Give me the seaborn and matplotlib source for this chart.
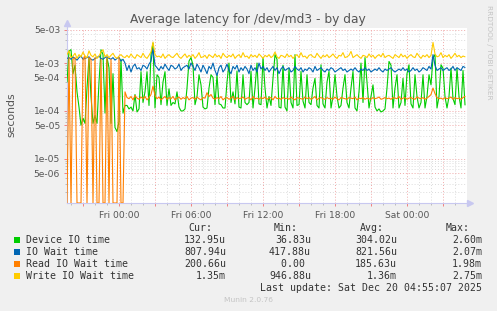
import numpy as np
import pandas as pd
import matplotlib
matplotlib.use("Agg")
import matplotlib.pyplot as plt
import matplotlib.dates as mdates
import matplotlib.ticker as mticker
from matplotlib.patches import Rectangle
import seaborn as sns

# ---------------- data (microseconds, 10-minute steps) ----------------
start_time = "2025-12-18 19:40"
step = "10min"
x_start = "2025-12-18 19:40"
x_end = "2025-12-20 05:00"

device_us = [
    400, 1800, 1900, 600, 900, 250, 120, 50, 70, 55,
    300, 1300, 200, 55, 80, 55, 400, 1900, 1500, 90,
    1300, 800, 55, 600, 45, 37, 60, 1200, 90, 130,
    130, 110, 120, 100, 220, 95, 110, 660, 150, 250,
    660, 130, 1500, 2600, 115, 570, 500, 135, 400, 660,
    130, 290, 130, 150, 140, 250, 120, 100, 100, 110,
    300, 1100, 1300, 900, 135, 200, 570, 350, 120, 110,
    115, 300, 570, 500, 135, 570, 140, 135, 115, 115,
    400, 1000, 150, 250, 140, 680, 120, 115, 570, 150,
    135, 150, 670, 115, 300, 1000, 140, 135, 1300, 300,
    115, 200, 130, 480, 1500, 1200, 120, 115, 900, 120,
    100, 780, 150, 115, 1500, 130, 135, 670, 160, 115,
    570, 150, 135, 300, 480, 130, 115, 920, 140, 115,
    400, 670, 115, 200, 570, 200, 115, 130, 300, 570,
    150, 115, 300, 670, 115, 100, 250, 1000, 150, 1300,
    400, 115, 200, 350, 120, 100, 110, 95, 100, 110,
    300, 1080, 900, 115, 300, 570, 115, 150, 480, 130,
    600, 920, 140, 115, 570, 200, 115, 150, 570, 115,
    200, 570, 350, 1300, 1500, 115, 200, 920, 780, 200,
    115, 200, 780, 180, 135, 780, 200, 115, 700, 133,
]

iowait_us = [
    1250, 1300, 1200, 1350, 1250, 1150, 1300, 1400, 1200, 1250,
    1300, 1350, 1200, 1150, 1250, 1300, 1400, 1250, 1200, 1300,
    1350, 1250, 1200, 1300, 1150, 1250, 1300, 1100, 1200, 1000,
    700, 900, 650, 850, 950, 750, 800, 700, 900, 850,
    750, 950, 1100, 2000, 900, 800, 700, 850, 750, 950,
    800, 700, 900, 850, 750, 800, 950, 700, 800, 850,
    900, 750, 1000, 850, 700, 950, 800, 650, 900, 750,
    600, 850, 750, 1000, 700, 550, 800, 900, 650, 750,
    950, 700, 600, 850, 750, 900, 650, 800, 700, 850,
    750, 600, 900, 700, 800, 650, 1000, 750, 850, 700,
    800, 650, 750, 850, 700, 800, 600, 750, 850, 700,
    750, 800, 650, 700, 850, 750, 700, 800, 650, 750,
    700, 800, 750, 650, 850, 700, 750, 800, 700, 650,
    750, 700, 800, 750, 650, 700, 750, 800, 700, 750,
    650, 700, 750, 700, 800, 700, 650, 750, 700, 800,
    700, 750, 650, 700, 750, 700, 800, 700, 650, 750,
    700, 750, 800, 700, 650, 700, 750, 700, 800, 700,
    750, 650, 700, 800, 700, 750, 650, 700, 800, 750,
    700, 850, 750, 1500, 900, 700, 750, 800, 700, 750,
    800, 700, 750, 850, 700, 800, 750, 700, 850, 808,
]

read_us = [
    0, 1300, 0, 1200, 1300, 0, 0, 0, 1200, 1400,
    0, 1300, 1200, 0, 1300, 0, 0, 1200, 0, 0,
    1300, 0, 1200, 0, 0, 0, 1300, 0, 0, 250,
    190, 180, 200, 170, 210, 185, 175, 195, 180, 200,
    170, 190, 220, 330, 210, 180, 195, 170, 185, 200,
    175, 190, 180, 200, 170, 185, 195, 175, 190, 180,
    200, 170, 185, 190, 175, 195, 180, 170, 190, 185,
    240, 200, 220, 185, 175, 190, 180, 200, 170, 185,
    190, 175, 185, 200, 170, 190, 180, 185, 195, 175,
    185, 190, 170, 200, 180, 185, 175, 190, 180, 195,
    175, 185, 190, 170, 200, 180, 185, 175, 190, 180,
    185, 175, 195, 180, 170, 190, 185, 180, 175, 195,
    180, 190, 175, 185, 200, 170, 185, 190, 180, 175,
    190, 180, 185, 175, 195, 180, 170, 190, 185, 180,
    175, 190, 185, 180, 195, 170, 185, 180, 190, 175,
    185, 180, 175, 190, 180, 185, 195, 175, 180, 190,
    180, 185, 175, 190, 185, 180, 200, 175, 185, 190,
    175, 185, 190, 180, 175, 195, 185, 180, 190, 175,
    185, 200, 220, 300, 230, 190, 180, 185, 175, 190,
    180, 185, 195, 175, 190, 180, 185, 175, 190, 201,
]

write_us = [
    1500, 1800, 1300, 1400, 1600, 1250, 1500, 1350, 1700, 1400,
    1300, 1800, 1450, 1350, 1550, 1250, 1400, 1700, 1900, 1350,
    1500, 1300, 1450, 1600, 1350, 1250, 1400, 1500, 1350, 1300,
    1450, 1300, 1550, 1350, 1250, 1500, 1400, 1300, 1600, 1350,
    1250, 1450, 1700, 2750, 1500, 1350, 1400, 1300, 1550, 1250,
    1400, 1500, 1350, 1300, 1450, 1600, 1350, 1250, 1400, 1550,
    1300, 1450, 1350, 1500, 1250, 1400, 1650, 1300, 1350, 1450,
    1250, 1500, 1400, 1300, 1550, 1350, 1450, 1250, 1600, 1400,
    1300, 1450, 1350, 1550, 1250, 1400, 1500, 1300, 1650, 1350,
    1400, 1250, 1500, 1350, 1450, 1300, 1550, 1400, 1250, 1450,
    1350, 1500, 1300, 1400, 1700, 1350, 1250, 1450, 1400, 1300,
    1550, 1350, 1450, 1250, 1400, 1500, 1300, 1650, 1350, 1400,
    1250, 1450, 1500, 1350, 1300, 1600, 1400, 1250, 1450, 1350,
    1500, 1300, 1400, 1550, 1350, 1250, 1450, 1400, 1650, 1300,
    1350, 1450, 1750, 1300, 1400, 1500, 1350, 1250, 1450, 1400,
    1300, 1550, 1350, 1450, 1250, 1400, 1500, 1350, 1600, 1300,
    1400, 1450, 1350, 1250, 1500, 1400, 1300, 1550, 1350, 1450,
    1250, 1400, 1500, 1350, 1300, 1600, 1400, 1250, 1450, 1350,
    1500, 1300, 1450, 2700, 1550, 1350, 1400, 1650, 1300, 1450,
    1350, 1500, 1250, 1400, 1600, 1350, 1450, 1300, 1400, 1350,
]

series_names = ["Device IO time", "IO Wait time", "Read IO Wait time", "Write IO Wait time"]
series_colors = ["#00CC00", "#0066B3", "#FF8000", "#FFCC00"]
cur_vals = ["132.95u", "807.94u", "200.66u", "1.35m"]
min_vals = ["36.83u", "417.88u", "0.00 ", "946.88u"]
avg_vals = ["304.02u", "821.56u", "185.63u", "1.36m"]
max_vals = ["2.60m", "2.07m", "1.98m", "2.75m"]
ytick_values = [5e-6, 1e-5, 5e-5, 1e-4, 5e-4, 1e-3, 5e-3]
y_limits = (1.19e-6, 5.4e-3)
title = "Average latency for /dev/md3 - by day"
last_update = "Last update: Sat Dec 20 04:55:07 2025"
footer = "Munin 2.0.76"
side_text = "RRDTOOL / TOBI OETIKER"

# ---------------- build dataframe ----------------
times = pd.date_range(start_time, periods=len(device_us), freq=step)
df = pd.DataFrame({
    "time": times,
    series_names[0]: np.array(device_us, float) * 1e-6,
    series_names[1]: np.array(iowait_us, float) * 1e-6,
    series_names[2]: np.array(read_us, float) * 1e-6,
    series_names[3]: np.array(write_us, float) * 1e-6,
})
long = df.melt(id_vars="time", var_name="series", value_name="seconds")
# like rrdtool, values below the axis floor (zeros on a log axis) sit on the floor
long["shown"] = long["seconds"].clip(lower=y_limits[0])

sns.set_theme(style="white")
plt.rcParams["font.family"] = ["DejaVu Sans"]

W, H = 497, 311
fig = plt.figure(figsize=(W / 100, H / 100), dpi=100, facecolor="#F0F0F0")
ax = fig.add_axes([67 / W, 1 - 203 / H, 400 / W, 175 / H])
ax.set_facecolor("white")

sns.lineplot(data=long, x="time", y="shown", hue="series",
             hue_order=series_names, palette=series_colors,
             linewidth=0.8, estimator=None, sort=False, legend=False, ax=ax)

ax.set_yscale("log")
ax.set_ylim(*y_limits)
ax.set_xlim(pd.Timestamp(x_start), pd.Timestamp(x_end))
ax.set_xlabel("")
ax.set_ylabel("")

# grid
grid_minor = "#DCDCDC"
grid_major = "#F0A8A8"
ax.yaxis.set_major_locator(mticker.FixedLocator(ytick_values))
ax.yaxis.set_minor_locator(mticker.LogLocator(base=10, subs=(2, 3, 4, 6, 7, 8, 9), numticks=30))
ax.yaxis.set_major_formatter(mticker.FuncFormatter(lambda v, p: f"{v:.0e}"))
ax.yaxis.set_minor_formatter(mticker.NullFormatter())

ax.xaxis.set_major_locator(mdates.HourLocator(byhour=range(0, 24, 3)))
ax.xaxis.set_minor_locator(mdates.HourLocator())

def xfmt(v, p):
    d = mdates.num2date(v)
    return d.strftime("%a %H:%M") if d.hour % 6 == 0 else ""

ax.xaxis.set_major_formatter(mticker.FuncFormatter(xfmt))

ax.grid(which="minor", color=grid_minor, linestyle=(0, (1, 2)), linewidth=0.7)
ax.grid(which="major", color=grid_major, linestyle=(0, (1, 2)), linewidth=0.7)
ax.set_axisbelow(True)

ax.tick_params(which="major", direction="out", length=2, width=0.7, color="#F08080",
               labelsize=6.6, labelcolor="#555555", pad=3)
ax.tick_params(which="minor", direction="out", length=1.5, width=0.7, color="#BBBBBB")
ax.tick_params(axis="x", which="major", pad=4)
ax.tick_params(axis="y", which="both", left=True)
ax.tick_params(axis="x", which="both", bottom=True)

for s in ["top", "right"]:
    ax.spines[s].set_visible(False)
axis_col = "#C8C8F0"
for s in ["left", "bottom"]:
    ax.spines[s].set_color(axis_col)
    ax.spines[s].set_linewidth(0.8)
    ax.spines[s].set_zorder(1.5)

# axis arrows
ax.plot([0, 0], [1.0, 1.03], transform=ax.transAxes, color=axis_col, lw=0.8, clip_on=False)
ax.plot([0], [1.03], marker="^", markersize=4, color=axis_col, transform=ax.transAxes, clip_on=False)
ax.plot([1.0, 1.008], [0, 0], transform=ax.transAxes, color=axis_col, lw=0.8, clip_on=False)
ax.plot([1.008], [0], marker=">", markersize=4, color=axis_col, transform=ax.transAxes, clip_on=False)

# titles
fig.text(248 / W, 1 - 23.3 / H, title, ha="center", va="baseline", fontsize=8.8, color="#555555")
fig.text(11.5 / W, 1 - 114.5 / H, "seconds", rotation=90, ha="center", va="center",
         fontsize=7.8, color="#555555")
fig.text(489 / W, 1 - 5 / H, side_text, rotation=270, ha="center", va="top",
         fontsize=5.3, color="#C4C4C4")

# legend block
mono = "DejaVu Sans Mono"
fs = 7.1
tc = "#333333"
def ty(ypx):
    return 1 - ypx / H

hdr_y = 227.7
fig.text(212 / W, ty(hdr_y), "Cur:", ha="right", va="center", family=mono, fontsize=fs, color=tc)
fig.text(298 / W, ty(hdr_y), "Min:", ha="right", va="center", family=mono, fontsize=fs, color=tc)
fig.text(384 / W, ty(hdr_y), "Avg:", ha="right", va="center", family=mono, fontsize=fs, color=tc)
fig.text(470 / W, ty(hdr_y), "Max:", ha="right", va="center", family=mono, fontsize=fs, color=tc)

for k, name in enumerate(series_names):
    yk = 239.7 + 12 * k
    fig.patches.append(Rectangle((14 / W, ty(yk + 3)), 6 / W, 6 / H, transform=fig.transFigure,
                                 facecolor=series_colors[k], edgecolor="none"))
    fig.text(26 / W, ty(yk), name, ha="left", va="center", family=mono, fontsize=fs, color=tc)
    fig.text(226 / W, ty(yk), cur_vals[k], ha="right", va="center", family=mono, fontsize=fs, color=tc)
    fig.text(311 / W, ty(yk), min_vals[k], ha="right", va="center", family=mono, fontsize=fs, color=tc)
    fig.text(397 / W, ty(yk), avg_vals[k], ha="right", va="center", family=mono, fontsize=fs, color=tc)
    fig.text(482 / W, ty(yk), max_vals[k], ha="right", va="center", family=mono, fontsize=fs, color=tc)

fig.text(482 / W, ty(287.7), last_update, ha="right", va="center", family=mono, fontsize=fs, color=tc)
fig.text(248 / W, ty(300), footer, ha="center", va="center", fontsize=5.4, color="#C4C4C4")

fig.savefig("out.png", dpi=100, facecolor=fig.get_facecolor())
